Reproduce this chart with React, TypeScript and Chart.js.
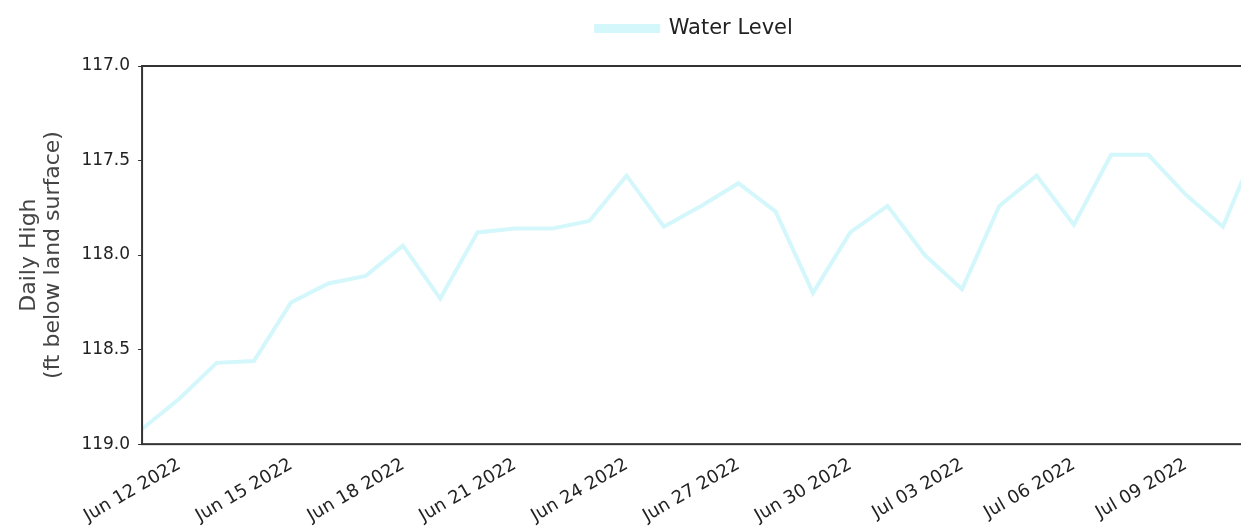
import React, { useEffect, useRef } from "react";
import { Chart, registerables } from "chart.js";

Chart.register(...registerables);

// Daily dates on the category axis (the axis runs a little past the visible area)
const dates: string[] = [
  "Jun 11 2022", "Jun 12 2022", "Jun 13 2022", "Jun 14 2022", "Jun 15 2022",
  "Jun 16 2022", "Jun 17 2022", "Jun 18 2022", "Jun 19 2022", "Jun 20 2022",
  "Jun 21 2022", "Jun 22 2022", "Jun 23 2022", "Jun 24 2022", "Jun 25 2022",
  "Jun 26 2022", "Jun 27 2022", "Jun 28 2022", "Jun 29 2022", "Jun 30 2022",
  "Jul 01 2022", "Jul 02 2022", "Jul 03 2022", "Jul 04 2022", "Jul 05 2022",
  "Jul 06 2022", "Jul 07 2022", "Jul 08 2022", "Jul 09 2022", "Jul 10 2022",
  "Jul 11 2022", "Jul 12 2022", "Jul 13 2022", "Jul 14 2022",
];

// Daily high water level (ft below land surface)
const waterLevel: number[] = [
  118.92, 118.76, 118.57, 118.56, 118.25, 118.15, 118.11, 117.95, 118.23, 117.88,
  117.86, 117.86, 117.82, 117.58, 117.85, 117.74, 117.62, 117.77, 118.2, 117.88,
  117.74, 118.0, 118.18, 117.74, 117.58, 117.84, 117.47, 117.47, 117.68, 117.85,
  117.38,
];

const yTicks: number[] = [117.0, 117.5, 118.0, 118.5, 119.0];

const LINE_COLOR = "#d4f7fc";
const TEXT_FONT = "DejaVu Sans";

const frame = {
  id: "frame",
  afterDraw(chart: any) {
    const { ctx, chartArea } = chart;
    ctx.save();
    ctx.strokeStyle = "#333333";
    ctx.lineWidth = 2;
    ctx.strokeRect(chartArea.left, chartArea.top, chartArea.right - chartArea.left, chartArea.bottom - chartArea.top);
    ctx.restore();
  },
};

const legendGap = {
  id: "legendGap",
  beforeInit(chart: any) {
    const orig = chart.legend.fit;
    chart.legend.fit = function () {
      orig.bind(this)();
      this.height += 17;
    };
  },
};

export default function App() {
  const ref = useRef<HTMLCanvasElement | null>(null);
  useEffect(() => {
    if (!ref.current) return;
    const chart = new Chart(ref.current, {
      type: "line",
      data: {
        labels: dates,
        datasets: [
          {
            label: "Water Level",
            data: waterLevel,
            borderColor: LINE_COLOR,
            backgroundColor: LINE_COLOR,
            borderWidth: 4,
            pointRadius: 0,
            tension: 0,
            fill: false,
          },
        ],
      },
      options: {
        animation: false,
        responsive: true,
        maintainAspectRatio: false,
        layout: { padding: { left: 9, right: 10, top: 0, bottom: 0 } },
        plugins: {
          legend: {
            display: true,
            position: "top",
            labels: {
              boxWidth: 62,
              boxHeight: 5,
              color: "#222",
              font: { family: TEXT_FONT, size: 21 },
            },
          },
          tooltip: { enabled: false },
        },
        scales: {
          x: {
            type: "category",
            border: { display: false },
            grid: { display: false },
            ticks: {
              autoSkip: false,
              maxRotation: 30,
              minRotation: 30,
              padding: 2,
              color: "#222",
              font: { family: TEXT_FONT, size: 18 },
              callback: function (this: any, value: any, index: number) {
                return (index - 1) % 3 === 0 && index < waterLevel.length
                  ? this.getLabelForValue(value)
                  : null;
              },
            },
          },
          y: {
            reverse: true,
            min: 117,
            max: 119,
            afterBuildTicks: (axis: any) => {
              axis.ticks = yTicks.map((v) => ({ value: v }));
            },
            border: { display: false },
            grid: {
              display: true,
              drawOnChartArea: false,
              drawTicks: true,
              tickLength: 4,
              tickColor: "#333",
            },
            ticks: {
              color: "#222",
              padding: 8,
              font: { family: TEXT_FONT, size: 17 },
              callback: (v: any) => Number(v).toFixed(1),
            },
            title: {
              display: true,
              text: ["Daily High", "(ft below land surface)"],
              color: "#444",
              font: { family: "DejaVu Sans", size: 22, lineHeight: 1.1 },
              padding: { top: 0, bottom: 8 },
            },
          },
        },
      },
      plugins: [frame, legendGap],
    });
    return () => chart.destroy();
  }, []);

  return (
    <div style={{ width: "100%", height: 521, overflow: "hidden" }}>
      <div style={{ width: 1374, height: 521, position: "relative" }}>
        <canvas ref={ref} />
      </div>
    </div>
  );
}
